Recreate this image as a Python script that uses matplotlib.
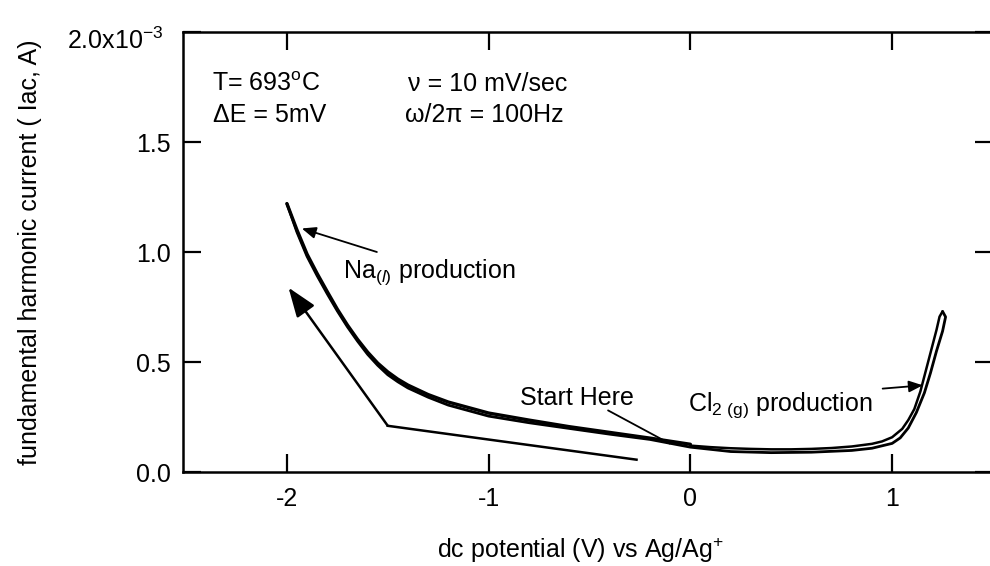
import matplotlib
matplotlib.use("Agg")
import matplotlib.pyplot as plt

plt.rcParams["font.family"] = ["Liberation Sans", "DejaVu Sans"]
plt.rcParams["mathtext.fontset"] = "custom"
plt.rcParams["mathtext.rm"] = "Liberation Sans"
plt.rcParams["mathtext.it"] = "Liberation Sans:italic"
plt.rcParams["mathtext.bf"] = "Liberation Sans:bold"

# Potential sweep (V vs Ag/Ag+) and fundamental harmonic current (x10^-3 A)
# anodic sweep: start at 0 V, run up to Cl2 evolution
fwd_E = [0.0, 0.1, 0.2, 0.3, 0.4, 0.5, 0.6, 0.7, 0.8, 0.9, 0.95, 1.0, 1.05,
         1.08, 1.11, 1.14, 1.16, 1.18, 1.20, 1.22, 1.235, 1.25]
fwd_I = [0.120, 0.113, 0.108, 0.105, 0.103, 0.103, 0.105, 0.109, 0.116, 0.128,
         0.139, 0.158, 0.196, 0.236, 0.286, 0.366, 0.436, 0.506, 0.576, 0.646,
         0.706, 0.730]

# reverse sweep: from the anodic limit down to Na deposition
rev_E = [1.25, 1.265, 1.25, 1.22, 1.19, 1.16, 1.12, 1.08, 1.04, 1.0, 0.9, 0.8,
         0.6, 0.4, 0.2, 0.0, -0.2, -0.4, -0.6, -0.8, -1.0, -1.2, -1.3, -1.4,
         -1.45, -1.5, -1.55, -1.6, -1.65, -1.7, -1.75, -1.8, -1.85, -1.9,
         -1.95, -2.0]
rev_I = [0.730, 0.705, 0.640, 0.550, 0.450, 0.360, 0.270, 0.200, 0.155, 0.130,
         0.108, 0.098, 0.090, 0.088, 0.093, 0.113, 0.148, 0.172, 0.198, 0.224,
         0.254, 0.304, 0.340, 0.382, 0.410, 0.442, 0.485, 0.535, 0.595, 0.660,
         0.732, 0.810, 0.892, 0.980, 1.090, 1.220]

# return sweep: from the cathodic limit back to 0 V
ret_E = [-2.0, -1.95, -1.9, -1.85, -1.8, -1.75, -1.7, -1.65, -1.6, -1.55,
         -1.5, -1.45, -1.4, -1.3, -1.2, -1.0, -0.8, -0.6, -0.4, -0.2, 0.0]
ret_I = [1.220, 1.100, 0.990, 0.902, 0.820, 0.740, 0.668, 0.603, 0.545, 0.495,
         0.455, 0.422, 0.395, 0.352, 0.318, 0.268, 0.236, 0.206, 0.180, 0.154,
         0.126]

x_ticks = [-2, -1, 0, 1]
x_tick_labels = ["-2", "-1", "0", "1"]
y_ticks = [0.0, 0.5, 1.0, 1.5, 2.0]
y_tick_labels = ["0.0", "0.5", "1.0", "1.5", ""]

W, H = 990, 566
fig = plt.figure(figsize=(W / 100, H / 100), dpi=100)
ax = fig.add_axes([183 / W, 1 - 472 / H, (993 - 183) / W, 440 / H])

ax.plot(fwd_E, fwd_I, color="black", lw=1.8, solid_capstyle="round",
        solid_joinstyle="round")
ax.plot(rev_E, rev_I, color="black", lw=2.0, solid_capstyle="round",
        solid_joinstyle="round")
ax.plot(ret_E, ret_I, color="black", lw=2.4, solid_capstyle="round",
        solid_joinstyle="round")

ax.set_xlim(-2.515, 1.5)
ax.set_ylim(0.0, 2.0)
ax.set_xticks(x_ticks)
ax.set_xticklabels(x_tick_labels)
ax.set_yticks(y_ticks)
ax.set_yticklabels(y_tick_labels)

for s in ax.spines.values():
    s.set_linewidth(1.8)
ax.tick_params(axis="both", direction="in", length=13, width=1.6,
               labelsize=18, top=True, right=True)
ax.tick_params(axis="x", pad=11)
ax.tick_params(axis="y", pad=9)

# top tick label carries the scale factor
ax.text(-0.024, 0.98, r"2.0x10$^{-3}$", transform=ax.transAxes,
        ha="right", va="center", fontsize=18)

ax.set_ylabel("fundamental harmonic current ( Iac, A)", fontsize=18)
ax.yaxis.set_label_coords(-0.174, 0.5)
ax.set_xlabel(r"dc potential (V) vs Ag/Ag$^{+}$", fontsize=18)
ax.xaxis.set_label_coords(0.49, -0.145)

# experimental conditions
ax.text(-2.371, 1.734, r"T= 693$^{\mathrm{o}}$C", fontsize=18, va="baseline")
ax.text(-2.365, 1.591, "\u0394E = 5mV", fontsize=18, va="baseline")
ax.text(-1.40, 1.734, "\u03bd = 10 mV/sec", fontsize=18, va="baseline")
ax.text(-1.414, 1.591, "\u03c9/2\u03c0 = 100Hz", fontsize=18, va="baseline")

# labels with pointers
ax.text(-1.721, 0.885, r"Na$_{(\mathit{l})}$ production", fontsize=18,
        va="baseline")
ax.annotate("", xy=(-1.926, 1.107), xytext=(-1.554, 1.0),
            arrowprops=dict(arrowstyle="-|>,head_length=0.6,head_width=0.25",
                            lw=1.3, color="black", mutation_scale=14,
                            shrinkA=0, shrinkB=0))

ax.text(-0.845, 0.303, "Start Here", fontsize=18, va="baseline")
ax.annotate("", xy=(-0.102, 0.129), xytext=(-0.408, 0.28),
            arrowprops=dict(arrowstyle="-", lw=1.3, color="black",
                            shrinkA=0, shrinkB=0))

ax.text(-0.013, 0.28, r"Cl$_{2\ \mathrm{(g)}}$ production", fontsize=18,
        va="baseline")
ax.annotate("", xy=(1.152, 0.394), xytext=(0.953, 0.379),
            arrowprops=dict(arrowstyle="-|>,head_length=0.6,head_width=0.25",
                            lw=1.3, color="black", mutation_scale=14,
                            shrinkA=0, shrinkB=0))

# sweep direction marker
ax.plot([-0.267, -1.50], [0.056, 0.210], color="black", lw=1.8)
ax.annotate("", xy=(-1.992, 0.838), xytext=(-1.50, 0.210),
            arrowprops=dict(arrowstyle="-|>,head_length=0.6,head_width=0.22",
                            lw=1.8, color="black", mutation_scale=30,
                            shrinkA=0, shrinkB=0))

fig.savefig("out.png", dpi=100, facecolor="white")
